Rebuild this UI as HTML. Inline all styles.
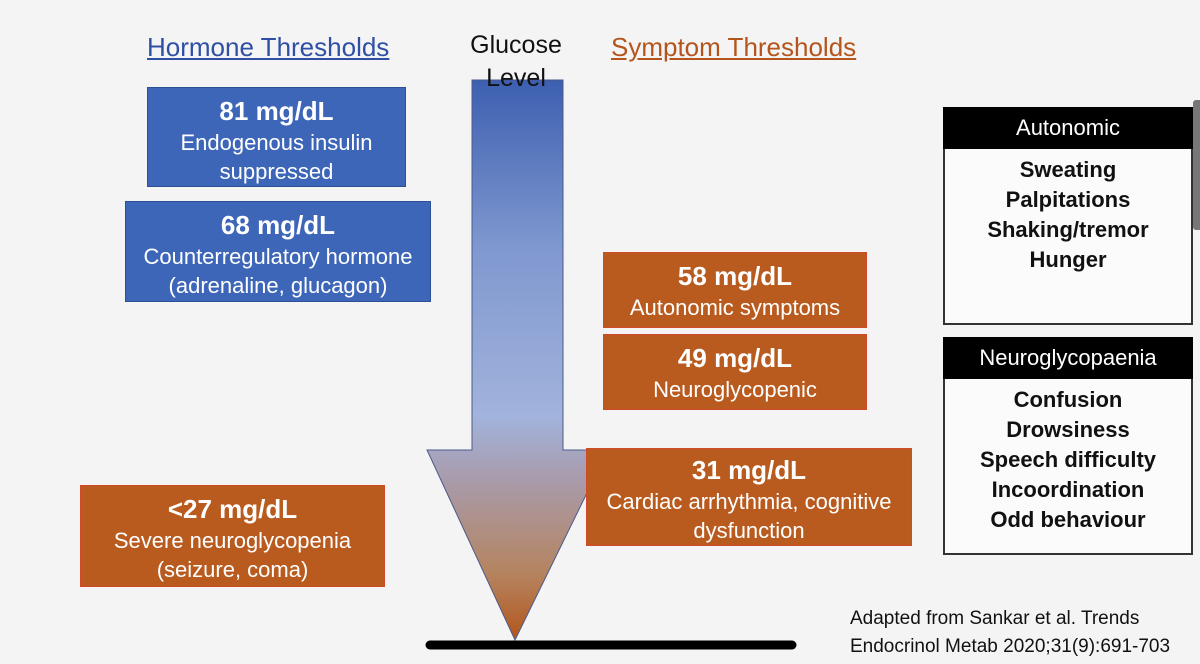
<!DOCTYPE html>
<html><head><style>
body{margin:0;width:1200px;height:664px;background:#f4f4f5;position:relative;overflow:hidden;font-family:"Liberation Sans","DejaVu Sans",sans-serif;}
.b{position:absolute;color:#fff;text-align:center;box-sizing:border-box;font-size:22px;line-height:29px;white-space:nowrap;}
.b b{font-size:26px;display:block;line-height:34px;}
.bl{background:#3d66b8;border:1px solid #2d4f96;}
.or{background:#b95b1e;border:1px solid #d04a2a;}
.t{position:absolute;font-size:26px;z-index:2;}
.p{position:absolute;border:2px solid #333;background:#fbfbfb;box-sizing:border-box;text-align:center;font-weight:bold;font-size:22px;line-height:30px;color:#111;}
.p .h{background:#000;color:#fff;font-weight:normal;height:42px;line-height:42px;margin:-2px -2px 0;font-size:22px;}
</style></head><body>
<svg style="position:absolute;left:0;top:0" width="1200" height="664">
<defs><linearGradient id="g" x1="0" y1="0" x2="0" y2="1">
<stop offset="0" stop-color="#3d5fb0"/><stop offset="0.3" stop-color="#7f98cf"/><stop offset="0.6" stop-color="#a2b3dc"/><stop offset="0.72" stop-color="#a99aa8"/><stop offset="0.88" stop-color="#b58460"/><stop offset="1" stop-color="#b4561c"/></linearGradient></defs>
<polygon points="472,80 563,80 563,450 608,450 515,640 427,450 472,450" fill="url(#g)" stroke="#4a5a8a" stroke-width="1"/>
<line x1="430" y1="645" x2="792" y2="645" stroke="#000" stroke-width="9" stroke-linecap="round"/>
</svg>
<div class="t" style="left:147px;top:32px;color:#2e4fa3;text-decoration:underline;">Hormone Thresholds</div>
<div class="t" style="left:461px;top:29px;color:#111;text-align:center;width:110px;line-height:33px;font-size:25px;">Glucose<br>Level</div>
<div class="t" style="left:611px;top:32px;color:#b4561c;text-decoration:underline;">Symptom Thresholds</div>

<div class="b bl" style="left:147px;top:87px;width:259px;height:100px;padding-top:6px;"><b>81 mg/dL</b>Endogenous insulin<br>suppressed</div>
<div class="b bl" style="left:125px;top:201px;width:306px;height:101px;padding-top:6px;"><b>68 mg/dL</b>Counterregulatory hormone<br>(adrenaline, glucagon)</div>
<div class="b or" style="left:80px;top:485px;width:305px;height:102px;padding-top:6px;"><b>&lt;27 mg/dL</b>Severe neuroglycopenia<br>(seizure, coma)</div>
<div class="b or" style="left:603px;top:252px;width:264px;height:76px;padding-top:6px;"><b>58 mg/dL</b>Autonomic symptoms</div>
<div class="b or" style="left:603px;top:334px;width:264px;height:76px;padding-top:6px;"><b>49 mg/dL</b>Neuroglycopenic</div>
<div class="b or" style="left:586px;top:448px;width:326px;height:98px;padding-top:4px;"><b>31 mg/dL</b>Cardiac arrhythmia, cognitive<br>dysfunction</div>

<div class="p" style="left:943px;top:107px;width:250px;height:218px;"><div class="h">Autonomic</div><div style="padding-top:6px">Sweating<br>Palpitations<br>Shaking/tremor<br>Hunger</div></div>
<div class="p" style="left:943px;top:337px;width:250px;height:218px;"><div class="h">Neuroglycopaenia</div><div style="padding-top:6px">Confusion<br>Drowsiness<br>Speech difficulty<br>Incoordination<br>Odd behaviour</div></div>
<div style="position:absolute;left:1193px;top:100px;width:7px;height:130px;background:#777;border-radius:3px 0 0 3px;"></div>

<div style="position:absolute;left:850px;top:605px;font-size:19px;line-height:28px;color:#111;white-space:nowrap;">Adapted from Sankar et al. Trends<br>Endocrinol Metab 2020;31(9):691-703</div>
</body></html>
